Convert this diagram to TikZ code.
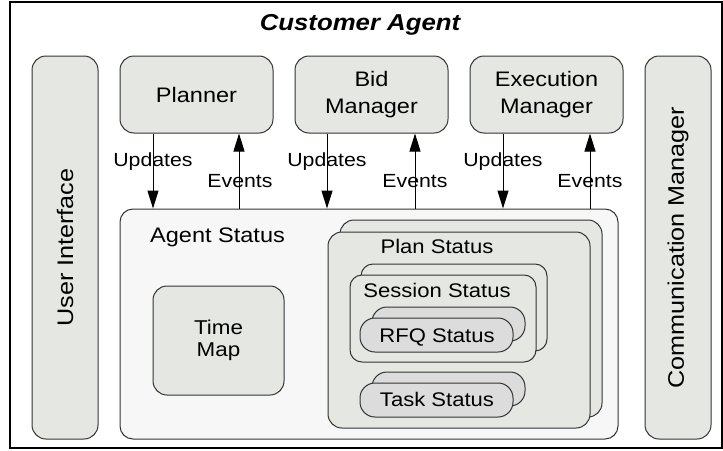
\documentclass[tikz,border=0pt]{standalone}
\usepackage{fontspec}
\setmainfont{Liberation Sans}[FakeStretch=1.12]
\usetikzlibrary{arrows.meta}
\definecolor{boxfill}{HTML}{E5E8E2}
\definecolor{agentfill}{HTML}{F7F7F7}
\definecolor{pillfill}{HTML}{DCDCDC}
\definecolor{edge}{HTML}{333333}
\tikzset{
  box/.style={draw=edge, line width=1pt, fill=boxfill, rounded corners=14pt, inner sep=0pt, font=\fontsize{21}{27}\selectfont, align=center},
  pill/.style={draw=edge, line width=1pt, fill=pillfill, rounded corners=15pt, inner sep=0pt},
  lbl/.style={inner sep=0pt, font=\fontsize{21}{25}\selectfont},
  inlbl/.style={inner sep=0pt, font=\fontsize{19.7}{24}\selectfont, anchor=base},
  vlbl/.style={inner sep=0pt, font=\fontsize{22.5}{26}\selectfont, rotate=90},
  small/.style={inner sep=0pt, font=\fontsize{19}{22}\selectfont, anchor=base},
  arr/.style={line width=1pt, -{Triangle[length=18pt,width=11pt]}},
}
\begin{document}
\begin{tikzpicture}[x=1pt,y=-1pt]
\useasboundingbox (0,0) rectangle (723,450);
% frame
\node[draw=black, line width=2pt, minimum width=712pt, minimum height=446pt, inner sep=0pt] (frame) at (366,225) {};
\node[inner sep=0pt, font=\fontsize{23}{27}\selectfont\bfseries\itshape] (title) at (360,25) {Customer Agent};
% side boxes
\node[box, minimum width=66pt, minimum height=383pt] (ui) at (65,247.5) {};
\node[vlbl] (uitxt) at (ui.center) {User Interface};
\node[box, minimum width=66pt, minimum height=383pt] (cm) at (678,247.5) {};
\node[vlbl] (cmtxt) at (cm.center) {Communication Manager};
% top boxes
\node[box, minimum width=153pt, minimum height=77pt] (planner) at (196.5,94.5) {Planner};
\node[box, minimum width=153pt, minimum height=77pt] (bid) at (371.5,94.5) {Bid\\Manager};
\node[box, minimum width=153pt, minimum height=77pt] (exec) at (546.5,94.5) {Execution\\Manager};
% agent status
\node[draw=edge, line width=1pt, fill=agentfill, rounded corners=13pt, minimum width=498pt, minimum height=230pt, inner sep=0pt] (agent) at (369,324) {};
\node[lbl, anchor=base west] (agenttxt) at (150,242) {Agent Status};
% time map
\node[box, minimum width=131pt, minimum height=109pt, font=\fontsize{20}{22}\selectfont] (time) at (218.5,340.5) {Time\\Map};
% plan status
\node[box, minimum width=262pt, minimum height=197pt] (planB) at (471,318.5) {};
\node[box, minimum width=262pt, minimum height=196pt] (plan) at (459,330) {};
\node[inlbl] (plantxt) at (437,253) {Plan Status};
% session status
\node[box, minimum width=186pt, minimum height=87pt, rounded corners=12pt] (sessB) at (454,307.5) {};
\node[box, minimum width=186pt, minimum height=87pt, rounded corners=12pt] (sess) at (443,318.5) {};
\node[inlbl] (sesstxt) at (437,297) {Session Status};
% rfq status
\node[pill, minimum width=153pt, minimum height=34pt] (rfqB) at (448.5,324) {};
\node[pill, minimum width=153pt, minimum height=34pt] (rfq) at (436.5,335) {};
\node[inlbl] (rfqtxt) at (437,342) {RFQ Status};
% task status
\node[pill, minimum width=153pt, minimum height=34pt] (taskB) at (448.5,389) {};
\node[pill, minimum width=153pt, minimum height=34pt] (task) at (436.5,400) {};
\node[inlbl] (tasktxt) at (437,406) {Task Status};
% connectors
\draw[arr] (planner.south -| 153,0) -- (agent.north -| 153,0);
\draw[arr] (agent.north -| 239,0) -- (planner.south -| 239,0);
\draw[arr] (bid.south -| 327,0) -- (agent.north -| 327,0);
\draw[arr] (agent.north -| 415,0) -- (bid.south -| 415,0);
\draw[arr] (exec.south -| 503,0) -- (agent.north -| 503,0);
\draw[arr] (agent.north -| 590,0) -- (exec.south -| 590,0);
% labels
\node[small] (u1) at (153,166) {Updates};
\node[small] (e1) at (240,187) {Events};
\node[small] (u2) at (327,166) {Updates};
\node[small] (e2) at (415,187) {Events};
\node[small] (u3) at (503,166) {Updates};
\node[small] (e3) at (590,187) {Events};
\end{tikzpicture}
\end{document}
